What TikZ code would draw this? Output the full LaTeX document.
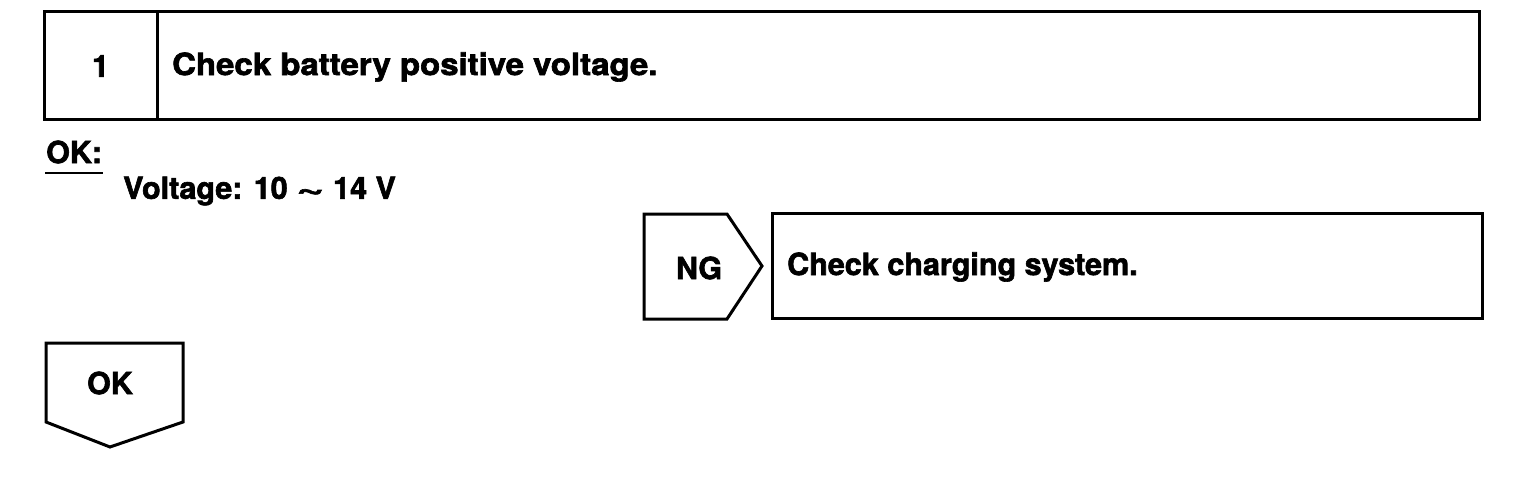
\documentclass[tikz,border=0pt]{standalone}
\usepackage{fontspec}
\setmainfont{TeX Gyre Heros}[FakeBold=2]
\begin{document}
\begin{tikzpicture}[x=1pt,y=-1pt,
  frame/.style={draw=black,line width=3pt,line join=miter},
  lbl/.style={inner sep=0pt,font=\fontsize{30.5}{36}\selectfont\bfseries},
  lblw/.style={lbl,anchor=west}]
\useasboundingbox (0,0) rectangle (1536,500);
% step 1 header
\node[frame,minimum width=113pt,minimum height=108pt,inner sep=0pt] (numbox) at (100.5,66) {};
\node[frame,minimum width=1322pt,minimum height=108pt,inner sep=0pt] (titlebox) at (818,66) {};
\node[lbl] (num) at (numbox.center) {1};
\node[lblw] (title) at (172,67) {\scalebox{1.08}[1]{Check battery positive voltage.}};
% OK spec
\node[lblw] (okspec) at (46,152) {OK:};
\coordinate (ulA) at (45,173);
\coordinate (ulB) at (103,173);
\draw[line width=1.6pt] (ulA) -- (ulB);
\node[lblw] (volt) at (123,191) {Voltage: 10 \scalebox{1.6}[1]{\textasciitilde} 14 V};
% NG branch
\draw[frame] (644,214) coordinate (ngA) -- (727,214) -- (762,266) coordinate (ngtip) -- (727,319) -- (644,319) -- cycle;
\node[lbl] (ng) at (699,268) {NG};
\node[frame,minimum width=710pt,minimum height=105pt,inner sep=0pt] (chgbox) at (1127,265.5) {};
\node[lblw] (chg) at (787,267) {Check charging system.};
% OK branch
\draw[frame] (46,343) -- (183,343) -- (183,422) -- (110,447) coordinate (oktip) -- (46,422) -- cycle;
\node[lbl] (ok) at (110,383) {OK};
\end{tikzpicture}
\end{document}
